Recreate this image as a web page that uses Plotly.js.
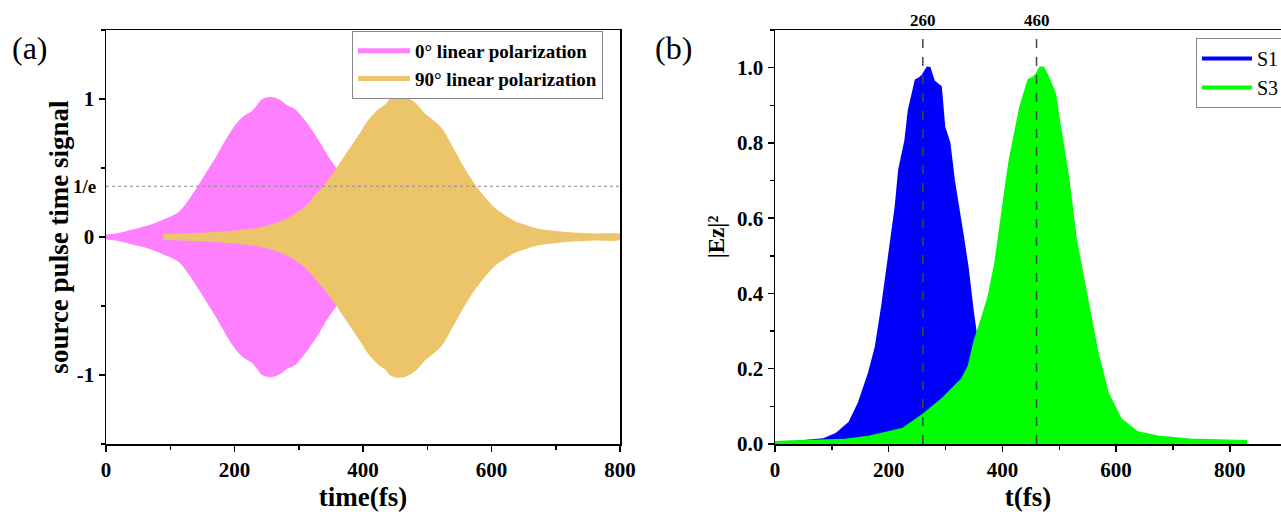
<!DOCTYPE html>
<html><head><meta charset="utf-8">
<script src="https://cdn.plot.ly/plotly-3.0.1.min.js"></script>
<style>html,body{margin:0;padding:0;background:#fff}#chart{width:1281px;height:518px}</style>
</head><body><div id="chart"></div>
<script>
// Panel (a): envelopes of the source pulses
const pinkT   = [0, 20, 42, 70, 94, 115, 131, 146, 160, 172, 188, 203, 215, 229, 238, 245, 258, 270, 281, 291, 305, 317, 330, 343, 359, 372, 386, 403, 420, 434, 455, 475, 500, 527, 560, 600];
const pinkEnv = [0, 0.015, 0.04, 0.075, 0.12, 0.17, 0.26, 0.365, 0.47, 0.56, 0.69, 0.80, 0.86, 0.90, 0.95, 0.99, 1.0, 0.98, 0.94, 0.92, 0.85, 0.775, 0.68, 0.58, 0.47, 0.365, 0.28, 0.196, 0.14, 0.10, 0.065, 0.04, 0.025, 0.015, 0.008, 0.005];
const goldT   = [89, 120, 150, 198, 230, 250, 280, 302, 315, 328, 345, 359, 372, 385, 398, 411, 426, 438, 445, 460, 472, 483, 494, 505, 520, 535, 551, 572, 588, 603, 620, 634, 655, 675, 700, 727, 760, 800];
const goldEnv = [0.003, 0.008, 0.012, 0.027, 0.045, 0.063, 0.11, 0.17, 0.22, 0.29, 0.38, 0.47, 0.56, 0.65, 0.74, 0.835, 0.91, 0.95, 0.99, 1.0, 0.98, 0.94, 0.88, 0.84, 0.775, 0.655, 0.52, 0.365, 0.27, 0.196, 0.14, 0.10, 0.065, 0.04, 0.025, 0.015, 0.008, 0.005];
const legendA = ['0° linear polarization', '90° linear polarization'];
const yTickValsA = [-1, 0, 1];
const yTickTextA = ['-1', '0', '1'];
const invE = 0.3679;

// Panel (b): |Ez|^2 envelopes
const s1T = [0, 40, 85, 108, 132, 149, 167, 179, 190, 202, 214, 220, 231, 237, 249, 255, 261, 270, 278, 290, 296, 305, 313, 328, 337, 346, 354, 370, 390, 420, 460, 520, 600, 700, 830];
const s1V = [0.002, 0.004, 0.01, 0.024, 0.055, 0.108, 0.188, 0.258, 0.364, 0.506, 0.63, 0.727, 0.806, 0.886, 0.965, 0.97, 0.978, 1.0, 0.962, 0.948, 0.842, 0.80, 0.70, 0.559, 0.47, 0.355, 0.267, 0.17, 0.1, 0.05, 0.025, 0.01, 0.004, 0.002, 0.001];
const s3T = [0, 60, 120, 167, 226, 264, 296, 319, 331, 343, 354, 366, 378, 390, 401, 410, 416, 425, 434, 448, 455, 461, 469, 476, 483, 490, 498, 513, 527, 548, 565, 583, 606, 636, 677, 730, 830];
const s3V = [0.001, 0.003, 0.007, 0.016, 0.037, 0.077, 0.117, 0.152, 0.17, 0.205, 0.276, 0.33, 0.39, 0.48, 0.61, 0.70, 0.76, 0.83, 0.895, 0.965, 0.97, 0.978, 1.0, 0.98, 0.957, 0.93, 0.85, 0.71, 0.54, 0.364, 0.24, 0.134, 0.064, 0.028, 0.015, 0.008, 0.004];
const markT = [260, 460];
const legendB = ['S1', 'S3'];

const PINK = '#ff80ff', GOLD = '#ecc46a', BLUE = '#0000ff', GREEN = '#00ff00';
const FONT = 'Liberation Serif';

function envPoly(t, e) {
  const xs = t.concat(t.slice().reverse());
  const ys = e.concat(e.slice().reverse().map(v => -v));
  return {xs, ys};
}
const pp = envPoly(pinkT, pinkEnv);
const gp = envPoly(goldT, goldEnv);

const traces = [
  {x: pp.xs, y: pp.ys, xaxis: 'x', yaxis: 'y', mode: 'lines', fill: 'toself', fillcolor: PINK,
   line: {color: PINK, width: 4, shape: 'spline'}, showlegend: false, hoverinfo: 'skip'},
  {x: gp.xs, y: gp.ys, xaxis: 'x', yaxis: 'y', mode: 'lines', fill: 'toself', fillcolor: GOLD,
   line: {color: GOLD, width: 5, shape: 'spline'}, showlegend: false, hoverinfo: 'skip'},
  {x: [null], y: [null], xaxis: 'x', yaxis: 'y', mode: 'lines', name: legendA[0], line: {color: PINK, width: 5}, legend: 'legend'},
  {x: [null], y: [null], xaxis: 'x', yaxis: 'y', mode: 'lines', name: legendA[1], line: {color: GOLD, width: 5}, legend: 'legend'},
  {x: s1T, y: s1V, xaxis: 'x2', yaxis: 'y2', mode: 'lines', fill: 'tozeroy', fillcolor: BLUE,
   line: {color: BLUE, width: 4}, showlegend: false, hoverinfo: 'skip'},
  {x: s3T, y: s3V, xaxis: 'x2', yaxis: 'y2', mode: 'lines', fill: 'tozeroy', fillcolor: GREEN,
   line: {color: GREEN, width: 5}, showlegend: false, hoverinfo: 'skip'},
  {x: [null], y: [null], xaxis: 'x2', yaxis: 'y2', mode: 'lines', name: legendB[0], line: {color: BLUE, width: 4}, legend: 'legend2'},
  {x: [null], y: [null], xaxis: 'x2', yaxis: 'y2', mode: 'lines', name: legendB[1], line: {color: GREEN, width: 4}, legend: 'legend2'}
];

function axBase(fs) {
  return {
    showgrid: false, zeroline: false, showline: true, linecolor: '#000', linewidth: 1.5,
    ticks: 'outside', ticklen: 6, tickwidth: 1.5, tickcolor: '#000',
    tickfont: {family: FONT, size: fs, color: '#000', weight: 'bold'}
  };
}
const minorTick = {ticks: 'outside', ticklen: 4, tickwidth: 1.5, tickcolor: '#000'};

const shapes = [
  {type: 'line', xref: 'x', yref: 'y', x0: 0, x1: 800, y0: invE, y1: invE, line: {color: '#888', width: 1, dash: 'dot'}, layer: 'above'}
].concat(markT.map(t => ({type: 'line', xref: 'x2', yref: 'paper', x0: t, x1: t, y0: 0, y1: 1,
  line: {color: '#444', width: 1.5, dash: 'dash'}, layer: 'above'})));

const annotations = [
  {text: '(a)', xref: 'paper', yref: 'paper', x: 30/1281, y: (444-48)/414, xanchor: 'center', yanchor: 'middle', showarrow: false, font: {family: FONT, size: 32, color: '#000'}},
  {text: '(b)', xref: 'paper', yref: 'paper', x: 673/1281, y: (444-48)/414, xanchor: 'center', yanchor: 'middle', showarrow: false, font: {family: FONT, size: 32, color: '#000'}},
  {text: '1/e', xref: 'paper', yref: 'y', x: 106/1281, y: invE, xanchor: 'right', yanchor: 'middle', xshift: -8, showarrow: false, font: {family: FONT, size: 19, color: '#000', weight: 'bold'}}
].concat(markT.map(t => ({text: String(t), xref: 'x2', yref: 'paper', x: t, y: 1, yanchor: 'bottom', yshift: -2, showarrow: false,
  font: {family: FONT, size: 17, color: '#000', weight: 'bold'}})));

const layout = {
  width: 1281, height: 518,
  margin: {l: 0, r: 0, t: 30, b: 74, autoexpand: false},
  paper_bgcolor: '#fff', plot_bgcolor: '#fff',
  font: {family: FONT, color: '#000'},
  xaxis: Object.assign({}, axBase(21), {domain: [106/1281, 620/1281], range: [0, 800], dtick: 200, mirror: true,
    minor: Object.assign({dtick: 100}, minorTick),
    title: {text: 'time(fs)', font: {family: FONT, size: 27, weight: 'bold'}, standoff: 6}}),
  yaxis: Object.assign({}, axBase(21), {domain: [0, 1], range: [-1.5, 1.5], tickmode: 'array', tickvals: yTickValsA, ticktext: yTickTextA, mirror: true,
    minor: Object.assign({tickmode: 'array', tickvals: [-1.5, -0.5, 0.5, 1.5]}, minorTick),
    title: {text: 'source pulse time signal', font: {family: FONT, size: 27, weight: 'bold'}, standoff: 0}}),
  xaxis2: Object.assign({}, axBase(21), {domain: [775/1281, 1], range: [0, 890], tickmode: 'array', tickvals: [0, 200, 400, 600, 800], anchor: 'y2', mirror: true,
    minor: Object.assign({dtick: 100}, minorTick),
    title: {text: 't(fs)', font: {family: FONT, size: 27, weight: 'bold'}, standoff: 6}}),
  yaxis2: Object.assign({}, axBase(21), {domain: [0, 1], range: [0, 1.1], dtick: 0.2, tickformat: '.1f', anchor: 'x2',
    minor: Object.assign({dtick: 0.1}, minorTick),
    title: {text: '|Ez|²', font: {family: FONT, size: 23, weight: 'bold'}, standoff: 6}}),
  legend: {x: 352/1281, y: (444-31)/414, xanchor: 'left', yanchor: 'top', bgcolor: '#fff', bordercolor: '#888', borderwidth: 1,
    font: {family: FONT, size: 19, color: '#000', weight: 'bold'}, itemwidth: 52},
  legend2: {x: 1196/1281, y: (444-38)/414, xanchor: 'left', yanchor: 'top', bgcolor: '#fff', bordercolor: '#888', borderwidth: 1,
    font: {family: FONT, size: 20, color: '#000'}, itemwidth: 50},
  shapes, annotations
};

Plotly.newPlot('chart', traces, layout, {displayModeBar: false, staticPlot: true});
</script></body></html>
